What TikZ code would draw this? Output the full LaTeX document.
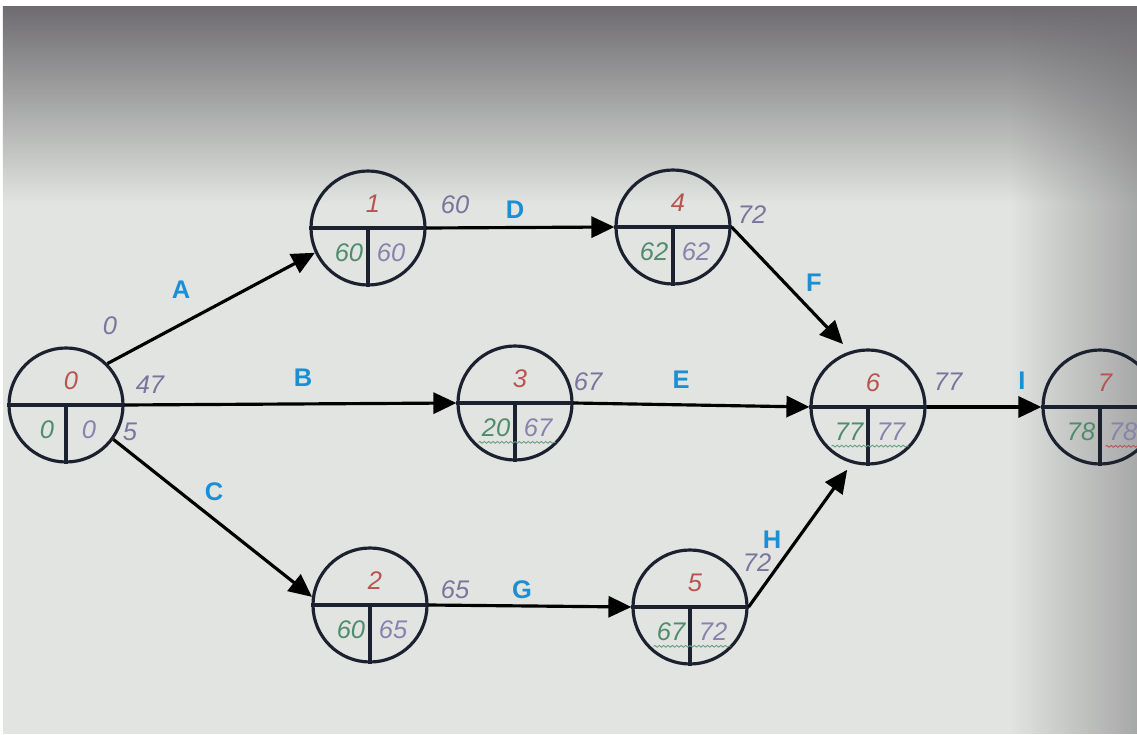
\documentclass[tikz,border=0pt]{standalone}
\usepackage{fontspec}
\setmainfont{Liberation Sans}
\usetikzlibrary{arrows.meta, calc, decorations.pathmorphing, fadings}
\definecolor{cink}{HTML}{1C2130}
\definecolor{cred}{HTML}{B85450}
\definecolor{cgreen}{HTML}{4F8C6E}
\definecolor{cpurple}{HTML}{8882AE}
\definecolor{cblue}{HTML}{1B8FD6}
\definecolor{cbg}{HTML}{E1E4E0}
\definecolor{ctop}{HTML}{6E6C70}
\tikzset{
  every picture/.style={line width=1.8pt},
  event/.style={circle, draw=cink, minimum size=2.28cm, inner sep=0pt},
  evline/.style={draw=cink},
  num/.style={font=\fontsize{14.5}{16}\selectfont\itshape, inner sep=1pt},
  idtxt/.style={num, text=cred},
  estxt/.style={num, text=cgreen},
  lftxt/.style={num, text=cpurple},
  timetxt/.style={num, text=cpurple!90!black},
  act/.style={font=\fontsize{14.5}{16}\selectfont\bfseries, text=cblue},
  arrow/.style={-{Triangle[length=0.46cm, width=0.42cm]}, draw=black},
  squiggle/.style={draw=cgreen!85, line width=0.5pt, decorate,
    decoration={snake, amplitude=0.5pt, segment length=2.5pt}},
}
% event circle: name, position, number, earliest, latest
\newcommand{\evt}[5]{%
  \node[event] (#1) at (#2) {};
  \draw[evline] (#1.west) -- (#1.east);
  \draw[evline] (#1.center) -- (#1.south);
  \node[idtxt] (#1-id) at ($(#1.center)+(0.1,0.48)$) {#3};
  \node[estxt] (#1-es) at ($(#1.center)+(-0.38,-0.5)$) {#4};
  \node[lftxt] (#1-lf) at ($(#1.center)+(0.46,-0.5)$) {#5};
}

\begin{document}
\begin{tikzpicture}
  % photo background
  \clip (0,0) rectangle (22.74,14.68);
  \useasboundingbox (0,0) rectangle (22.74,14.68);
  \fill[white] (0,0) rectangle (22.74,14.68);
  \fill[cbg] (0.06,0) rectangle (22.74,14.54);
  \shade[top color=ctop, bottom color=cbg] (0.06,10.6) rectangle (22.74,14.54);
  \fill[ctop, path fading=west, opacity=0.5] (20.2,0) rectangle (22.74,14.54);

  % events
  \evt{n0}{1.32,6.58}{0}{0}{0}
  \evt{n1}{7.36,10.12}{1}{60}{60}
  \evt{n4}{13.46,10.14}{4}{62}{62}
  \evt{n3}{10.30,6.62}{3}{20}{67}
  \evt{n6}{17.36,6.54}{6}{77}{77}
  \evt{n7}{22.00,6.54}{7}{78}{78}
  \evt{n2}{7.40,2.58}{2}{60}{65}
  \evt{n5}{13.80,2.54}{5}{67}{72}

  % spell-check marks
  \draw[squiggle] ($(n3-es.south west)+(0,-0.04)$) -- ($(n3-lf.south east)+(0,-0.04)$);
  \draw[squiggle] ($(n5-es.south west)+(0,-0.04)$) -- ($(n5-lf.south east)+(0,-0.04)$);
  \draw[squiggle] ($(n6-es.south west)+(0,-0.04)$) -- ($(n6-lf.south east)+(0,-0.04)$);
  \draw[squiggle, draw=cred] ($(n7-lf.south west)+(0,-0.04)$) -- ($(n7-lf.south east)+(0,-0.04)$);

  % activities
  \draw[arrow] (n0.45) -- (n1.205);
  \draw[arrow] (n0.east) -- (n3.west);
  \draw[arrow] (n0.-36) -- (n2.172);
  \draw[arrow] (n1.east) -- (n4.west);
  \draw[arrow] (n3.east) -- (n6.west);
  \draw[arrow, shorten >=0.2cm] (n4.east) -- (n6.108);
  \draw[arrow] (n2.east) -- (n5.west);
  \draw[arrow, shorten >=0.16cm] (n5.east) -- (n6.254);
  \draw[arrow] (n6.east) -- (n7.west);

  \node[act] (lA) at (3.62,8.88) {A};
  \node[act] (lB) at (6.06,7.12) {B};
  \node[act] (lC) at (4.28,4.84) {C};
  \node[act] (lD) at (10.30,10.48) {D};
  \node[act] (lE) at (13.62,7.08) {E};
  \node[act] (lF) at (16.28,9.02) {F};
  \node[act] (lG) at (10.44,2.88) {G};
  \node[act] (lH) at (15.44,3.88) {H};
  \node[act] (lI) at (20.44,7.06) {I};

  % times next to the arrows
  \node[timetxt] (t0a) at (2.20,8.16) {0};
  \node[timetxt] (t0b) at (3.00,6.98) {47};
  \node[timetxt] (t0c) at (2.60,6.04) {5};
  \node[timetxt] (t1) at (9.10,10.58) {60};
  \node[timetxt] (t4) at (15.04,10.38) {72};
  \node[timetxt] (t3) at (11.76,7.04) {67};
  \node[timetxt] (t6) at (18.96,7.04) {77};
  \node[timetxt] (t2) at (9.10,2.88) {65};
  \node[timetxt] (t5) at (15.14,3.42) {72};
\end{tikzpicture}
\end{document}
